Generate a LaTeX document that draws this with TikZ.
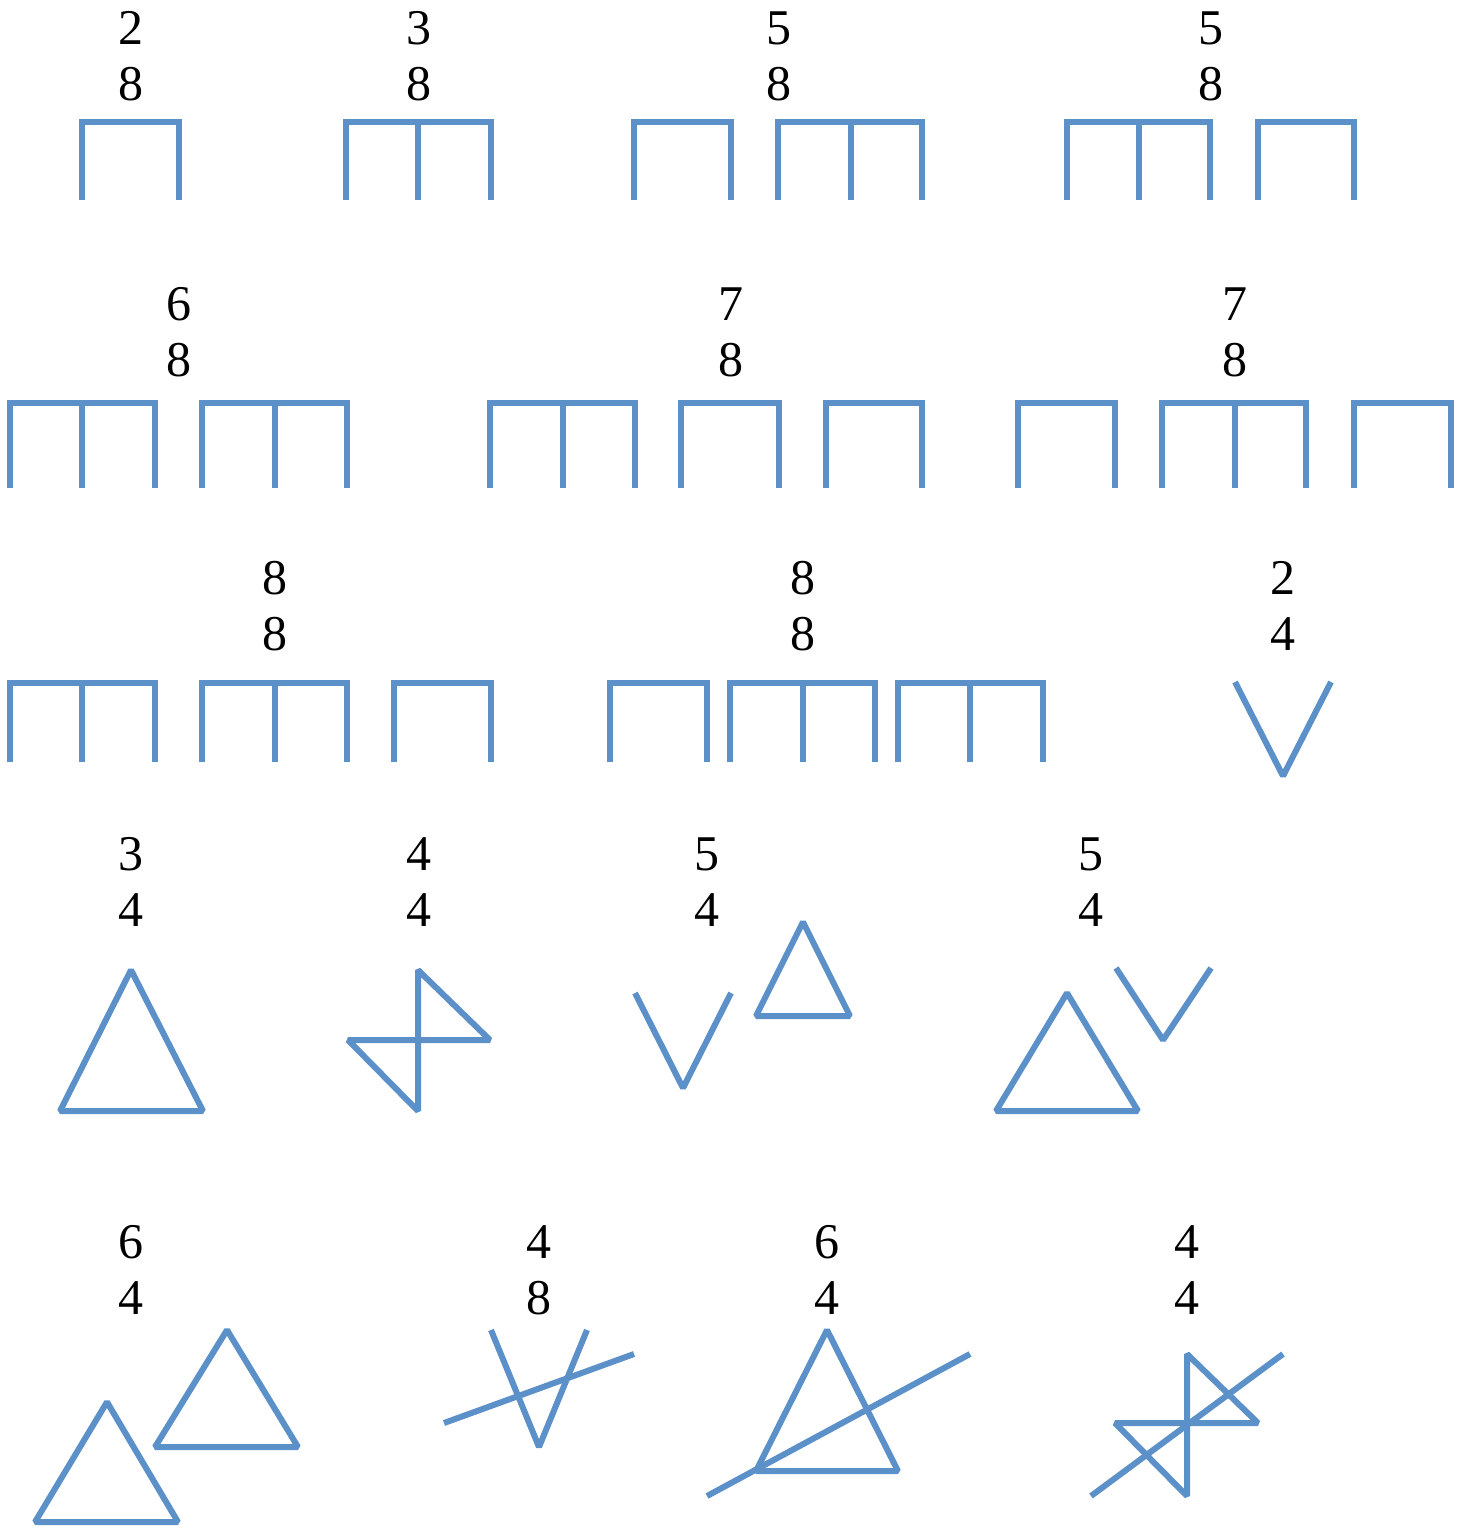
\documentclass[tikz,border=0pt]{standalone}
\usepackage{fontspec}
\setmainfont{Liberation Serif}
\usepackage{xcolor}
\usepackage{tikz}
\definecolor{stickblue}{RGB}{92,144,201}
\tikzstyle{stick} = [draw=stickblue, line width=6pt, line join=miter]
\tikzstyle{slant} = [stick, line join=bevel]
\tikzstyle{frac} = [align=center, inner sep=0pt, font=\fontsize{50}{56}\selectfont]
% one and two bar tally shapes: x's, top, bottom
\newcommand{\onebar}[4]{\draw[stick] (#1,#4) -- (#1,#3) -- (#2,#3) -- (#2,#4);}
\newcommand{\twobar}[5]{\draw[stick] (#1,#5) -- (#1,#4) -- (#3,#4) -- (#3,#5); \draw[stick] (#2,#4) -- (#2,#5);}

\begin{document}
\begin{tikzpicture}[x=1pt, y=-1pt]
\fill[white] (0,0) rectangle (1469,1528);
\useasboundingbox (0,0) rectangle (1469,1528);

% Row 1
\node (r1a) [frac] at (131,56) {2\\8};
\node (r1b) [frac] at (419,56) {3\\8};
\node (r1c) [frac] at (779,56) {5\\8};
\node (r1d) [frac] at (1211,56) {5\\8};
\onebar{82}{179}{122}{200}
\twobar{346}{418}{491}{122}{200}
\onebar{634}{731}{122}{200}
\twobar{778}{851}{922}{122}{200}
\twobar{1067}{1139}{1210}{122}{200}
\onebar{1258}{1354}{122}{200}

% Row 2
\node (r2a) [frac] at (179,332) {6\\8};
\node (r2b) [frac] at (731,332) {7\\8};
\node (r2c) [frac] at (1235,332) {7\\8};
\twobar{10}{82}{155}{403}{488}
\twobar{202}{275}{347}{403}{488}
\twobar{490}{563}{635}{403}{488}
\onebar{681}{779}{403}{488}
\onebar{826}{922}{403}{488}
\onebar{1018}{1115}{403}{488}
\twobar{1162}{1235}{1306}{403}{488}
\onebar{1354}{1451}{403}{488}

% Row 3
\node (r3a) [frac] at (275,606) {8\\8};
\node (r3b) [frac] at (803,606) {8\\8};
\node (r3c) [frac] at (1283,606) {2\\4};
\twobar{10}{82}{155}{683}{762}
\twobar{202}{275}{347}{683}{762}
\onebar{394}{491}{683}{762}
\onebar{610}{707}{683}{762}
\twobar{730}{803}{875}{683}{762}
\twobar{898}{970}{1043}{683}{762}
\draw[slant] (1235,682) -- (1283,776) -- (1331,682);

% Row 4
\node (r4a) [frac] at (131,882) {3\\4};
\node (r4b) [frac] at (419,882) {4\\4};
\node (r4c) [frac] at (707,882) {5\\4};
\node (r4d) [frac] at (1091,882) {5\\4};
\draw[slant] (131,970) -- (203,1111) -- (60,1111) -- cycle;
\draw[slant] (418,970) -- (490,1040) -- (348,1040) -- (418,1111) -- cycle;
\draw[slant] (635,993) -- (683,1088) -- (731,993);
\draw[slant] (803,922) -- (850,1016) -- (756,1016) -- cycle;
\draw[slant] (1067,993) -- (1138,1111) -- (996,1111) -- cycle;
\draw[slant] (1116,968) -- (1163,1040) -- (1211,968);

% Row 5
\node (r5a) [frac] at (131,1270) {6\\4};
\node (r5b) [frac] at (539,1270) {4\\8};
\node (r5c) [frac] at (827,1270) {6\\4};
\node (r5d) [frac] at (1187,1270) {4\\4};
\draw[slant] (107,1402) -- (178,1522) -- (35,1522) -- cycle;
\draw[slant] (227,1330) -- (298,1447) -- (155,1447) -- cycle;
\draw[slant] (491,1330) -- (539,1447) -- (587,1330);
\draw[slant] (444,1423) -- (634,1354);
\draw[slant] (827,1330) -- (898,1471) -- (756,1471) -- cycle;
\draw[slant] (707,1496) -- (970,1354);
\draw[slant] (1187,1354) -- (1258,1423) -- (1115,1423) -- (1187,1496) -- cycle;
\draw[slant] (1091,1496) -- (1283,1354);

\end{tikzpicture}
\end{document}
